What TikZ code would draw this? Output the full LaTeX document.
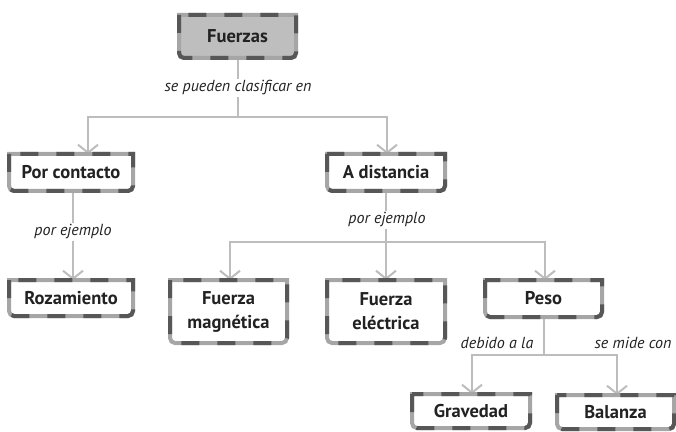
\documentclass[tikz,border=0pt]{standalone}
\usepackage{fontspec}
\setmainfont{PT Sans}
\usetikzlibrary{arrows.meta,calc}
\pgfdeclarelayer{background}
\pgfsetlayers{background,main}
\definecolor{txt}{HTML}{222222}
\definecolor{bordlight}{HTML}{A6A6A6}
\definecolor{borddark}{HTML}{575757}
\definecolor{conn}{HTML}{BDBDBD}
\definecolor{fillg}{HTML}{BEBEBE}
\tikzset{
  x=1pt, y=1pt,
  cbox/.style={align=center, text=txt, inner sep=0pt, outer sep=0pt,
    font=\fontsize{18.5}{24}\selectfont\bfseries},
  lbl/.style={text=txt, inner sep=2pt, font=\fontsize{16}{19}\selectfont\itshape},
  lblw/.style={lbl, fill=white},
  conline/.style={draw=conn, line width=2pt},
  arr/.style={conline, -{Straight Barb[length=8pt, width=20pt, line width=2pt]}},
}
\newcommand{\bordpath}[1]{(#1.north west) -- ($(#1.south west)+(0,5)$)
  arc[start angle=180, end angle=270, radius=5] -- ($(#1.south east)+(-5,0)$)
  arc[start angle=270, end angle=360, radius=5] -- (#1.north east) -- cycle}
\newcommand{\bordbox}[1]{%
  \draw[bordlight, line width=4pt] \bordpath{#1};
  \draw[borddark, line width=4pt, dash pattern=on 18pt off 18pt] \bordpath{#1};}
\begin{document}
\begin{tikzpicture}
\useasboundingbox (0,0) rectangle (676,431);
% nodes
\node[cbox, minimum width=117, minimum height=43] (fz) at (237.5,394.5) {Fuerzas};
\node[cbox, minimum width=124, minimum height=37] (pc) at (71,258.5) {Por contacto};
\node[cbox, minimum width=118, minimum height=37] (ad) at (386,258.5) {A distancia};
\node[cbox, minimum width=124, minimum height=36] (rz) at (71,133) {Rozamiento};
\node[cbox, minimum width=117, minimum height=63] (fm) at (228.5,119.5) {Fuerza\\magnética};
\node[cbox, minimum width=118, minimum height=63] (fe) at (386,119.5) {Fuerza\\eléctrica};
\node[cbox, minimum width=117, minimum height=37] (pe) at (543.5,132.5) {Peso};
\node[cbox, minimum width=118, minimum height=34] (gr) at (471,20) {Gravedad};
\node[cbox, minimum width=117, minimum height=34] (ba) at (615.5,19) {Balanza};
\begin{pgfonlayer}{background}
\fill[fillg] \bordpath{fz};
\end{pgfonlayer}
% junctions
\coordinate (j1) at (237.5,314);
\coordinate (j2) at (386,189);
\coordinate (j3) at (543.5,76);
% connectors
\draw[conline] (fz.south) -- (j1);
\draw[arr] (j1) -| ([xshift=17pt]pc.north);
\draw[arr] (j1) -| ([xshift=1pt]ad.north);
\draw[arr] ([xshift=2pt]pc.south) -- ([xshift=2pt]rz.north);
\draw[conline] (ad.south) -- (j2);
\draw[arr] (j2) -| ([xshift=1.5pt]fm.north);
\draw[arr] (j2) -- (fe.north);
\draw[arr] (j2) -| ([xshift=1.5pt]pe.north);
\draw[conline] (pe.south) -- (j3);
\draw[arr] (j3) -| ([xshift=1pt]gr.north);
\draw[arr] (j3) -| ([xshift=1.5pt]ba.north);
% labels
\node[lblw] (l1) at (238,343) {se pueden clasificar en};
\node[lblw] (l2) at (73,199) {por ejemplo};
\node[lblw] (l3) at (387,211) {por ejemplo};
\node[lbl] (l4) at (497,88) {debido a la};
\node[lbl] (l5) at (633,88) {se mide con};
% borders
\bordbox{fz}
\bordbox{pc}
\bordbox{ad}
\bordbox{rz}
\bordbox{fm}
\bordbox{fe}
\bordbox{pe}
\bordbox{gr}
\bordbox{ba}
\end{tikzpicture}
\end{document}
